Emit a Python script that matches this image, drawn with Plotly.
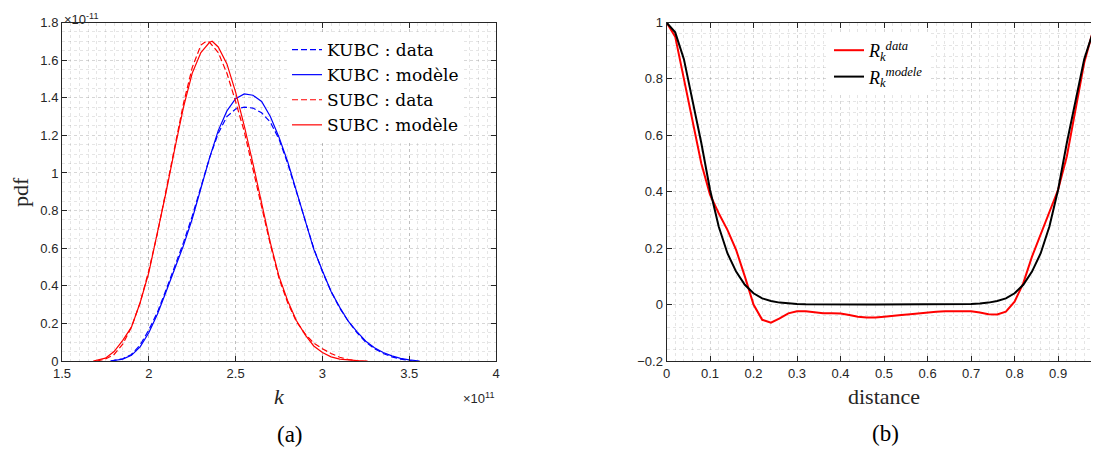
import plotly.graph_objects as go

# ---- Panel (a): pdf of k  (x in units of 1e11, y in units of 1e-11) ----
kubc_data_x = [1.78, 1.85, 1.90, 1.95, 2.00, 2.05, 2.10, 2.15, 2.20, 2.25, 2.30, 2.35, 2.40, 2.45, 2.50, 2.55, 2.60, 2.65, 2.70, 2.75, 2.80, 2.85, 2.90, 2.95, 3.00, 3.05, 3.10, 3.15, 3.20, 3.25, 3.30, 3.35, 3.40, 3.45, 3.52]
kubc_data_y = [0.0, 0.012, 0.035, 0.085, 0.165, 0.26, 0.38, 0.50, 0.63, 0.77, 0.93, 1.08, 1.21, 1.30, 1.34, 1.35, 1.345, 1.32, 1.27, 1.18, 1.05, 0.90, 0.74, 0.60, 0.475, 0.37, 0.28, 0.21, 0.15, 0.10, 0.066, 0.04, 0.022, 0.01, 0.0]

kubc_model_x = [1.78, 1.85, 1.90, 1.95, 2.00, 2.05, 2.10, 2.15, 2.20, 2.25, 2.30, 2.35, 2.40, 2.45, 2.50, 2.55, 2.60, 2.65, 2.70, 2.75, 2.80, 2.85, 2.90, 2.95, 3.00, 3.05, 3.10, 3.15, 3.20, 3.25, 3.30, 3.35, 3.40, 3.45, 3.50, 3.56]
kubc_model_y = [0.0, 0.01, 0.03, 0.075, 0.15, 0.25, 0.37, 0.49, 0.615, 0.755, 0.917, 1.08, 1.225, 1.33, 1.395, 1.42, 1.413, 1.38, 1.30, 1.19, 1.06, 0.905, 0.74, 0.595, 0.48, 0.37, 0.285, 0.21, 0.155, 0.105, 0.07, 0.045, 0.027, 0.014, 0.006, 0.0]

subc_data_x = [1.70, 1.75, 1.80, 1.85, 1.90, 1.95, 2.00, 2.05, 2.10, 2.15, 2.20, 2.25, 2.30, 2.33, 2.35, 2.40, 2.45, 2.50, 2.55, 2.60, 2.65, 2.70, 2.75, 2.80, 2.85, 2.90, 2.95, 3.00, 3.05, 3.10, 3.15, 3.21]
subc_data_y = [0.0, 0.01, 0.035, 0.09, 0.18, 0.31, 0.48, 0.68, 0.91, 1.15, 1.37, 1.56, 1.68, 1.70, 1.695, 1.64, 1.53, 1.38, 1.22, 1.02, 0.82, 0.62, 0.44, 0.31, 0.21, 0.145, 0.095, 0.065, 0.04, 0.02, 0.008, 0.0]

subc_model_x = [1.68, 1.75, 1.80, 1.85, 1.90, 1.95, 2.00, 2.05, 2.10, 2.15, 2.20, 2.25, 2.30, 2.35, 2.365, 2.40, 2.45, 2.50, 2.55, 2.60, 2.65, 2.70, 2.75, 2.80, 2.85, 2.90, 2.95, 3.00, 3.05, 3.10, 3.20, 3.26]
subc_model_y = [0.0, 0.015, 0.05, 0.11, 0.18, 0.31, 0.47, 0.68, 0.90, 1.13, 1.35, 1.53, 1.64, 1.695, 1.70, 1.67, 1.58, 1.43, 1.25, 1.05, 0.84, 0.63, 0.45, 0.32, 0.215, 0.14, 0.08, 0.045, 0.022, 0.01, 0.002, 0.0]

# ---- Panel (b): correlation vs distance ----
distance = [0.00, 0.02, 0.04, 0.06, 0.08, 0.10, 0.12, 0.14, 0.16, 0.18, 0.20, 0.22, 0.24, 0.26, 0.28, 0.30, 0.32, 0.34, 0.36, 0.38, 0.40, 0.42, 0.44, 0.46, 0.48, 0.50, 0.52, 0.54, 0.56, 0.58, 0.60, 0.62, 0.64, 0.66, 0.68, 0.70, 0.72, 0.74, 0.76, 0.78, 0.80, 0.82, 0.84, 0.86, 0.88, 0.90, 0.92, 0.94, 0.96, 0.98, 1.00]
r_data = [1.0, 0.95, 0.80, 0.65, 0.50, 0.39, 0.324, 0.265, 0.194, 0.10, 0.0, -0.054, -0.064, -0.049, -0.031, -0.024, -0.024, -0.027, -0.031, -0.031, -0.032, -0.037, -0.043, -0.046, -0.046, -0.043, -0.039, -0.037, -0.034, -0.031, -0.027, -0.025, -0.024, -0.024, -0.022, -0.024, -0.028, -0.034, -0.035, -0.025, 0.01, 0.076, 0.17, 0.247, 0.324, 0.407, 0.525, 0.69, 0.857, 0.97, 1.0]
r_model = [1.0, 0.965, 0.87, 0.727, 0.573, 0.407, 0.277, 0.182, 0.117, 0.07, 0.04, 0.022, 0.013, 0.007, 0.004, 0.002, 0.001, 0.0005, 0.0, 0.0, 0.0, 0.0, 0.0, 0.0, 0.0, 0.0, 0.0, 0.0, 0.0, 0.0, 0.0, 0.0, 0.0005, 0.001, 0.001, 0.002, 0.004, 0.007, 0.013, 0.022, 0.04, 0.07, 0.117, 0.182, 0.277, 0.407, 0.573, 0.727, 0.87, 0.965, 1.0]

# The page body has an 8px margin: figure is sized so it ends at the window edge.
OFF = 8
W, H = 1099 - OFF, 450 - OFF
BLUE = "#0000ff"
RED = "#ff0000"
AXC = "#262626"
SERIF = "Liberation Serif"
LEGSERIF = "DejaVu Serif"
SANS = "Liberation Sans"


def px(x):
    return (x - OFF) / W


def py(y):
    return 1 - (y - OFF) / H


fig = go.Figure()
fig.add_trace(go.Scatter(x=kubc_data_x, y=kubc_data_y, mode="lines", name="KUBC : data",
                         line=dict(color=BLUE, width=1.2, dash="6px,3px"), legend="legend"))
fig.add_trace(go.Scatter(x=kubc_model_x, y=kubc_model_y, mode="lines", name="KUBC : modèle",
                         line=dict(color=BLUE, width=1.2), legend="legend"))
fig.add_trace(go.Scatter(x=subc_data_x, y=subc_data_y, mode="lines", name="SUBC : data",
                         line=dict(color=RED, width=1.2, dash="6px,3px"), legend="legend"))
fig.add_trace(go.Scatter(x=subc_model_x, y=subc_model_y, mode="lines", name="SUBC : modèle",
                         line=dict(color=RED, width=1.2), legend="legend"))

fig.add_trace(go.Scatter(x=distance, y=r_data, mode="lines",
                         name="<i>R</i><sub><i>k</i></sub><sup><i>data</i></sup>",
                         line=dict(color=RED, width=2), xaxis="x2", yaxis="y2", legend="legend2"))
fig.add_trace(go.Scatter(x=distance, y=r_model, mode="lines",
                         name="<i>R</i><sub><i>k</i></sub><sup><i>modele</i></sup>",
                         line=dict(color="#000000", width=2), xaxis="x2", yaxis="y2", legend="legend2"))

common = dict(showline=True, linecolor=AXC, linewidth=1, mirror="ticks", ticks="inside",
              ticklen=5, tickcolor=AXC, zeroline=False, automargin=False,
              showgrid=True, gridcolor="rgba(0,0,0,0.16)", gridwidth=1, griddash="dot",
              tickfont=dict(family=SANS, size=13, color=AXC))


def minor(step):
    return dict(dtick=step, showgrid=True, gridcolor="rgba(0,0,0,0.10)", gridwidth=1,
                griddash="dot", ticks="")


ydom = [py(361), py(22.5)]
fig.update_layout(
    template="none",
    width=W, height=H, autosize=False,
    margin=dict(l=0, r=0, t=0, b=0, pad=0),
    paper_bgcolor="white", plot_bgcolor="white",
    xaxis=dict(domain=[px(62), px(496)], range=[1.5, 4], tickvals=[1.5, 2, 2.5, 3, 3.5, 4],
               ticktext=["1.5", "2", "2.5", "3", "3.5", "4"], minor=minor(0.05), **common),
    yaxis=dict(domain=ydom, range=[0, 1.8], dtick=0.2, tickformat="~g", minor=minor(0.05), **common),
    xaxis2=dict(domain=[px(666.5), 1.0], range=[0, 0.994], dtick=0.1, anchor="y2",
                minor=minor(0.02), **common),
    yaxis2=dict(domain=ydom, range=[-0.2, 1], dtick=0.2, anchor="x2", tickformat="~g",
                minor=minor(0.04), **common),
    legend=dict(x=px(287), y=py(32), xanchor="left", yanchor="top",
                bgcolor="white", borderwidth=0, tracegroupgap=0,
                font=dict(family=LEGSERIF, size=17, color="#000000")),
    legend2=dict(x=px(829), y=py(32), xanchor="left", yanchor="top",
                 bgcolor="white", borderwidth=0,
                 font=dict(family=SERIF, size=18, color="#000000")),
    showlegend=True,
)


def label(text, x, y, size, family=SERIF, color=AXC, xanchor="center", yanchor="middle", angle=0):
    return dict(text=text, x=px(x), y=py(y), xref="paper", yref="paper", showarrow=False,
                xanchor=xanchor, yanchor=yanchor, textangle=angle,
                font=dict(family=family, size=size, color=color))


fig.update_layout(annotations=[
    label("pdf", 20, 192, 22, angle=-90),
    label("<i>k</i>", 279, 396, 22),
    label("distance", 884, 396, 22),
    label("(a)", 290, 434, 23, color="#000000"),
    label("(b)", 886, 433, 23, color="#000000"),
    label("×10<sup>-11</sup>", 62, 8.5, 13, family=SANS, xanchor="left", yanchor="top"),
    label("×10<sup>11</sup>", 497, 398, 13, family=SANS, xanchor="right"),
])

fig.write_html("out.html")
